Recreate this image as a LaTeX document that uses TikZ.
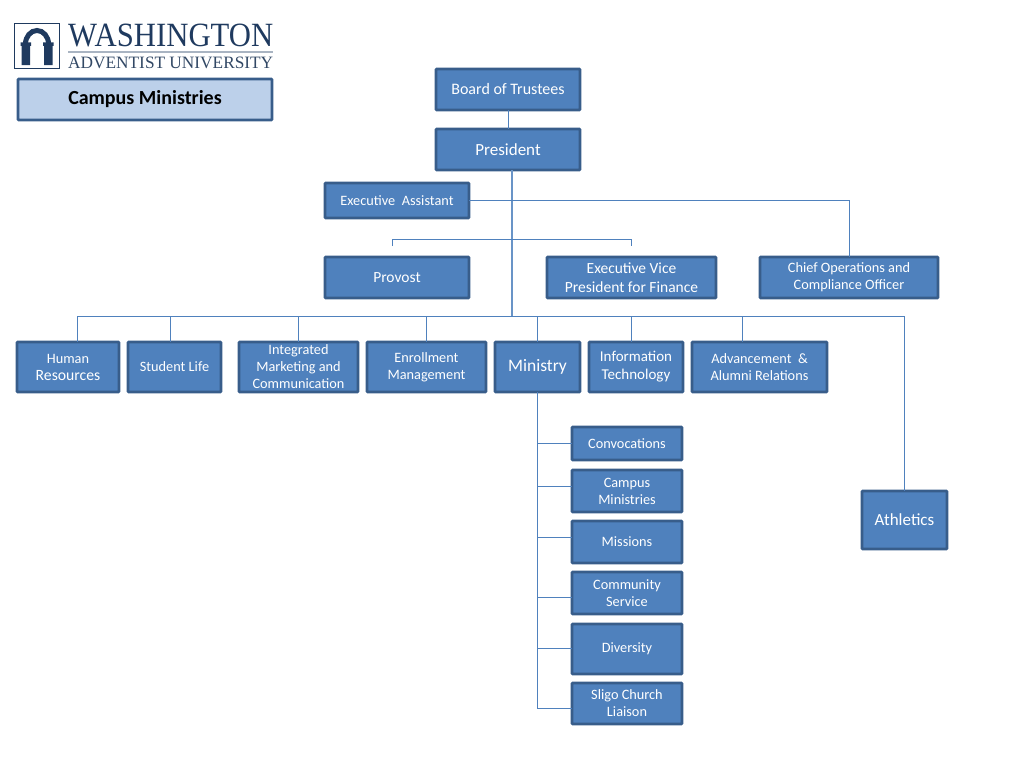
\documentclass[tikz,border=0pt]{standalone}
\usepackage{fontspec}
\setmainfont{Carlito}
\newfontfamily\logofont{Liberation Serif}
\usepackage{xcolor}
\usepackage{graphicx}
\usetikzlibrary{calc}
\usetikzlibrary{positioning}
\definecolor{boxfill}{HTML}{4F81BD}
\definecolor{boxline}{HTML}{385D8A}
\definecolor{titlefill}{HTML}{BCD0EA}
\definecolor{logoblue}{HTML}{1F3A5F}
\definecolor{logogray}{HTML}{A9B4C2}
\begin{document}
\begin{tikzpicture}[x=1pt, y=-1pt,
	main/.style = {draw=boxline, fill=boxfill, line width=2.6pt, rounded corners=0.8pt, outer sep=0pt, inner sep=1pt, align=center, text=white, font=\fontsize{14.3}{17}\selectfont},
	wire/.style = {draw=boxfill, line width=1pt}]
		\useasboundingbox (0,0) rectangle (1024,768);
		
		% logo
		\draw[logoblue, line width=1.5pt] (14.5,23.5) rectangle (59.5,68.5);
		\draw[logoblue, line width=5pt] (25.5,44) arc[start angle=180, end angle=360, x radius=11.5, y radius=13.5];
		\fill[logoblue] (20.5,42.5) rectangle (31,46) (21.5,46) rectangle (30,65);
		\fill[logoblue] (43,42.5) rectangle (53.5,46) (44,46) rectangle (52.5,65);
		\node[anchor=base west, inner sep=0pt, text=logoblue, font=\logofont] (LogoTop) at (68,46) {\resizebox{205pt}{22.5pt}{W\kern-0.08em ASHINGTON}};
		\draw[logogray, line width=1.5pt] (68,52) -- (273,52);
		\node[anchor=base west, inner sep=0pt, text=logoblue!80!gray, font=\logofont] (LogoBottom) at (68,68) {\resizebox{205pt}{11.5pt}{ADVENTIST UNIVERSITY}};
		
		\node[main, fill=titlefill, text=black, minimum width=254pt, minimum height=41pt, font=\fontsize{20}{22}\selectfont\bfseries] (Title) at (145,99.5) {Campus Ministries};
		
		\node[main, minimum width=144pt, minimum height=41pt, font=\fontsize{16}{17}\selectfont] (Board) at (508,89.5) {Board of Trustees};
		\node[main, minimum width=144pt, minimum height=41pt, font=\fontsize{17}{18}\selectfont] (President) [below = 19pt of Board] {President};
		\node[main, minimum width=144pt, minimum height=35pt] (Assistant) at (397,200.5) {Executive\ \ Assistant};
		\node[main, minimum width=144pt, minimum height=41pt, font=\fontsize{15.5}{17}\selectfont] (Provost) [below = 39pt of Assistant] {Provost};
		\node[main, minimum width=169pt, minimum height=41pt, font=\fontsize{15.5}{19}\selectfont] (Finance) [right = 78pt of Provost] {Executive Vice\\President for Finance};
		\node[main, minimum width=178pt, minimum height=41pt] (Chief) [right = 44pt of Finance] {Chief Operations and\\Compliance Officer};
		
		\node[main, minimum width=102pt, minimum height=50pt] (Human) at (68,367) {Human\\{\fontsize{15.7}{18}\selectfont Resources}};
		\node[main, minimum width=93pt, minimum height=50pt] (Student) [right = 9pt of Human] {Student Life};
		\node[main, minimum width=119pt, minimum height=50pt] (Integrated) [right = 18pt of Student] {Integrated\\Marketing and\\Communication};
		\node[main, minimum width=119pt, minimum height=50pt] (Enrollment) [right = 9pt of Integrated] {Enrollment\\Management};
		\node[main, minimum width=85pt, minimum height=50pt, font=\fontsize{17.5}{20}\selectfont] (Ministry) [right = 9pt of Enrollment] {Ministry};
		\node[main, minimum width=94pt, minimum height=50pt, font=\fontsize{15}{18}\selectfont] (Information) [right = 9pt of Ministry] {Information\\Technology};
		\node[main, minimum width=135pt, minimum height=50pt] (Advancement) [right = 9pt of Information] {Advancement\ \ \&\\Alumni Relations};
		
		\node[main, minimum width=110pt, minimum height=33pt] (Convocations) at (627,443.5) {Convocations};
		\node[main, minimum width=110pt, minimum height=42pt] (Campus) [below = 10pt of Convocations] {Campus\\Ministries};
		\node[main, minimum width=110pt, minimum height=42pt] (Missions) [below = 9pt of Campus] {Missions};
		\node[main, minimum width=110pt, minimum height=42pt] (Community) [below = 9pt of Missions] {Community\\Service};
		\node[main, minimum width=110pt, minimum height=50pt] (Diversity) [below = 10pt of Community] {Diversity};
		\node[main, minimum width=110pt, minimum height=41pt] (Sligo) [below = 9pt of Diversity] {Sligo Church\\Liaison};
		
		\node[main, minimum width=85pt, minimum height=58pt, font=\fontsize{17}{18}\selectfont] (Athletics) at (904.5,520) {Athletics};
		
		% free ends of the lines
		\coordinate (BusLeft) at (77,316);
		\coordinate (BusRight) at (904.5,316);
		\coordinate (TrunkTop) at (512,170);
		\coordinate (TrunkEnd) at (512,316);
		\coordinate (ArmLeft) at (392,246);
		\coordinate (ArmRight) at (631,246);
		
		\begin{scope}[wire]
			\draw (Board) -- (President);
			\draw[draw=boxfill!85!white, line width=1.6pt] (TrunkTop) -- (TrunkEnd);
			\draw (Assistant.east) -| (Chief.north);
			\draw (ArmLeft) -- (ArmLeft |- 0,239) -- (ArmRight |- 0,239) -- (ArmRight);
			\draw (BusLeft) -- (BusRight);
			\draw (BusLeft) -- (BusLeft |- Human.north);
			\draw (BusLeft -| 170,0) -- (170,0 |- Student.north);
			\draw (BusLeft -| Integrated.north) -- (Integrated.north);
			\draw (BusLeft -| Enrollment.north) -- (Enrollment.north);
			\draw (BusLeft -| Ministry.north) -- (Ministry.north);
			\draw (BusLeft -| 631,0) -- (631,0 |- Information.north);
			\draw (BusLeft -| 742,0) -- (742,0 |- Advancement.north);
			\draw (BusRight) -- (Athletics.north);
			\draw (Ministry.south) -- (Ministry.south |- 0,708) -- (Sligo.west |- 0,708);
			\draw (Ministry.south |- Convocations.west) -- (Convocations.west);
			\draw (Ministry.south |- 0,486) -- (Campus.west |- 0,486);
			\draw (Ministry.south |- 0,537) -- (Missions.west |- 0,537);
			\draw (Ministry.south |- 0,597) -- (Community.west |- 0,597);
			\draw (Ministry.south |- 0,648) -- (Diversity.west |- 0,648);
		\end{scope}
	\end{tikzpicture}
\end{document}
